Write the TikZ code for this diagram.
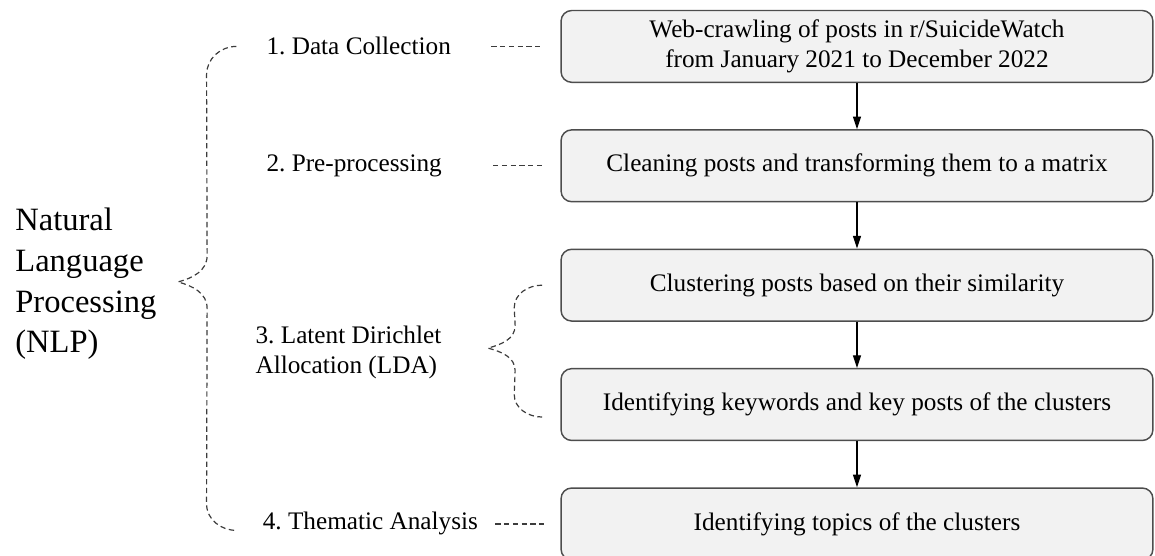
\documentclass[tikz,border=0pt]{standalone}
\usepackage{fontspec}
\setmainfont{Liberation Serif}
\usetikzlibrary{arrows.meta,positioning,calc}
\frenchspacing

\definecolor{boxfill}{HTML}{F2F2F2}
\definecolor{boxline}{HTML}{4D4D4D}
\definecolor{dashline}{HTML}{3C3C3C}

\begin{document}
\begin{tikzpicture}[
  font=\fontsize{19}{22.5}\selectfont,
  >={Triangle[length=9.5pt, width=6pt]},
  task/.style={rectangle, rounded corners=8pt, draw=boxline, line width=1.1pt, fill=boxfill,
               minimum width=15.66cm, minimum height=1.9cm, align=center, inner sep=2pt},
  stage/.style={anchor=west, inner sep=0pt, align=left},
  field/.style={anchor=west, inner sep=0pt, align=left, font=\fontsize{24.5}{30.75}\selectfont},
  flow/.style={->, line width=0.9pt, draw=black},
  tie/.style={draw=dashline, line width=0.9pt, dash pattern=on 4pt off 2.6pt},
]
\useasboundingbox (0,0) rectangle (30.56,-14.71);

\node[task] (collect) at (22.675,-1.228) {Web-crawling of posts in r/SuicideWatch\\from January 2021 to December 2022};
\node[task, below=1.22cm of collect] (clean)   {Cleaning posts and transforming them to a matrix};
\node[task, below=1.22cm of clean]   (cluster) {Clustering posts based on their similarity};
\node[task, below=1.22cm of cluster] (keys)    {Identifying keywords and key posts of the clusters};
\node[task, below=1.22cm of keys]    (topics)  {Identifying topics of the clusters};

\node[stage] (s1) at ([xshift=-7.78cm]collect.west) {1. Data Collection};
\node[stage] (s2) at ([xshift=-7.78cm]clean.west)   {2. Pre-processing};
\node[stage] (s3) at ($(cluster.west)!0.5!(keys.west)+(-8.07,-0.2)$) {3. Latent Dirichlet\\Allocation (LDA)};
\node[stage] (s4) at ([xshift=-7.88cm]topics.west)  {4. Thematic Analysis};

\node[field] (nlp) at (0.40,-7.51) {Natural\\Language\\Processing\\(NLP)};

\coordinate (nlptop) at ([xshift=-0.79cm]s1.west);
\coordinate (nlpbot) at ([xshift=-0.69cm, yshift=-0.17cm]s4.west);
\coordinate (nlptip) at (4.71,-7.46);
\coordinate (ldatop) at ([xshift=-0.48cm]cluster.west);
\coordinate (ldabot) at ([xshift=-0.48cm, yshift=-0.33cm]keys.west);
\coordinate (ldatip) at (12.91,-9.21);

\draw[flow] (collect) -- (clean);
\draw[flow] (clean) -- (cluster);
\draw[flow] (cluster) -- (keys);
\draw[flow] (keys) -- (topics);

\draw[tie, shorten <=1.06cm, shorten >=0.48cm] (s1) -- (collect);
\draw[tie, shorten <=1.35cm, shorten >=0.48cm] (s2) -- (clean);
\draw[tie, shorten <=0.45cm, shorten >=0.34cm] (s4) -- (topics);

\draw[tie] (nlptop) to[out=180,in=90] ++(-0.79,-0.75) -- ($(nlptip)+(0.77,0.7)$)
  to[out=-90,in=15] (nlptip) to[out=-15,in=90] ++(0.77,-0.7) -- ($(nlpbot)+(-0.79,0.7)$)
  to[out=-90,in=180] (nlpbot);
\draw[tie] (ldatop) to[out=180,in=90] ++(-0.74,-0.6) -- ($(ldatip)+(0.72,0.6)$)
  to[out=-90,in=15] (ldatip) to[out=-15,in=90] ++(0.72,-0.6) -- ($(ldabot)+(-0.74,0.6)$)
  to[out=-90,in=180] (ldabot);

\end{tikzpicture}
\end{document}
